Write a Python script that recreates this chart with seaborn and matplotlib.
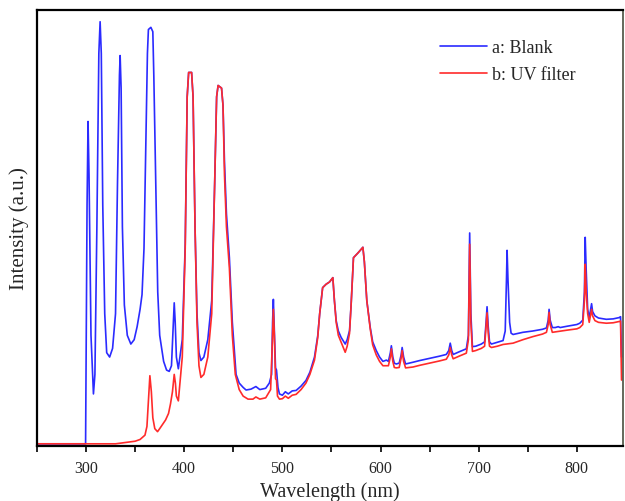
import numpy as np
import pandas as pd
import seaborn as sns
import matplotlib
matplotlib.use("Agg")
import matplotlib.pyplot as plt
from matplotlib.ticker import MultipleLocator

# Emission spectrum without filter (wavelength in nm, intensity in a.u.)
blank_wl = [250, 299.5, 300.3, 301, 302, 303, 305, 307.5, 309, 311, 313, 314.3, 315.5, 317, 319,
            321, 324, 327, 330, 332, 334, 334.7, 335.7, 337, 339, 342, 345.6, 349, 352, 355,
            357, 359, 361, 362.5, 363.5, 366, 368, 369, 371, 373, 375, 377, 379, 382, 384.7,
            387, 389, 389.8, 390.8, 392, 394, 398, 401, 403, 404.5, 407.5, 409, 411, 413, 415,
            417, 420, 424, 428, 431, 433, 434.5, 438, 439.5, 441, 443, 446, 449, 452.8, 456,
            460, 463, 468, 473, 477, 483, 486.7, 489, 490, 490.8, 491.8, 493, 494, 495.5, 497,
            500, 503, 506, 510, 514, 519, 524, 528, 532.7, 536, 538, 541, 544.6, 548, 551.4,
            553, 554.8, 557, 559.9, 564, 566, 568.4, 570, 572.4, 577, 582, 583.5, 586, 589.5,
            592, 595.6, 599, 602.4, 606, 608, 610, 611, 612.5, 614, 616, 619, 621, 622, 623.5,
            625.5, 633, 640, 650, 660, 667, 669.5, 671, 672.5, 674, 680, 687.4, 689.5, 690.8,
            692, 693.6, 697, 702.7, 706, 707.5, 708.5, 709.7, 711, 713, 719, 724.8, 727, 728.3,
            728.9, 729.8, 731.5, 733, 735, 745, 755, 765, 769, 770.8, 771.7, 772.8, 775, 778,
            781, 783, 790, 800, 803, 806, 807.7, 808.5, 809.5, 811, 812.6, 814, 815, 816, 818.4,
            822, 830, 837, 843.2, 844.5, 845.5]
blank_int = [0, 0, 30, 55, 74.3, 62, 25, 11.5, 16, 50, 90, 97.3, 90, 55, 30,
             21, 20, 22, 30, 60, 85, 89.5, 82, 50, 32, 25, 23, 24, 27, 31,
             34.4, 45, 70, 90, 95.5, 96, 95, 85, 60, 35, 25, 22, 19, 17, 16.7,
             18, 28, 32.5, 28, 20, 17.3, 24, 46, 80, 85.6, 85.6, 80, 50, 30, 21,
             19.2, 20, 24, 33, 60, 80, 82.6, 82, 78, 65, 53, 42.9, 28, 16, 14,
             13, 12.4, 12.6, 13.2, 12.5, 12.8, 14, 16, 28, 33.3, 26, 17.5, 17, 13, 11.5,
             11.2, 12, 11.5, 12.2, 12.3, 13.3, 14.6, 16.5, 20, 24.9, 30, 36, 36.8, 37.3, 38.3,
             33, 28.4, 26, 24.5, 23, 24, 26.1, 32, 42.9, 44, 45.3, 42, 33, 26.8,
             23.5, 21.5, 20, 19, 19.3, 19, 21, 22.6, 20, 18.6, 18.4, 18.6, 20.5, 22.2, 20,
             18.4, 18.8, 19.2, 19.7, 20.2, 20.6, 21.5, 23.2, 21.5, 20.6, 21.2, 21.9, 25, 48.6,
             30, 22.4, 22.5, 23, 23.5, 28, 31.6, 27, 23.5, 23, 23.4, 23.8, 26, 38,
             44.6, 38, 28, 25.5, 25.2, 25.7, 26, 26.4, 26.7, 28.5, 31, 28.5, 26.8, 26.8,
             27, 26.8, 27.1, 27.5, 27.8, 28.5, 35, 47.6, 40, 31, 29.1, 31, 32.3, 30.5, 29.5,
             29, 28.7, 28.8, 29.1, 29.3, 20]

# Emission spectrum through the UV filter
uv_wl = [250, 330, 340, 350, 355, 360, 362, 363.5, 365, 366.5, 368, 370, 372.8, 375, 378.6,
         381, 384, 386, 388, 389.8, 391, 392, 394, 398, 401, 403, 404.5, 407.5, 409, 411,
         413, 415, 417, 420, 424, 428, 431, 433, 434.5, 438, 439.5, 441, 443, 446, 449,
         452, 456, 460, 465, 470, 473, 477, 483, 488, 490, 490.8, 491.8, 493, 494, 495,
         497, 500, 503, 506, 510, 514, 519, 524, 528, 532.7, 536, 538, 541, 544.6, 548,
         551.4, 553, 554.8, 557, 559.9, 564, 566, 568.4, 570, 572.4, 577, 582, 583.5, 586,
         589.5, 592, 595.6, 599, 602.4, 606, 608, 610, 611, 612.5, 614, 616, 619, 621, 622,
         623.5, 625.5, 633, 640, 650, 660, 667, 669.5, 671, 672.5, 674, 680, 687.4, 689.5,
         690.8, 692, 693.6, 697, 702.7, 706, 707.5, 708.5, 709.7, 711, 713, 719, 724.8, 735,
         745, 755, 765, 769, 770.8, 771.7, 772.8, 775, 781, 790, 800, 803, 806, 807.7, 808.5,
         809.5, 811, 812.6, 814, 815, 816, 818.4, 822, 830, 837, 843.2, 844.5, 845.5]
uv_int = [0, 0, 0.3, 0.6, 1, 2, 4, 10, 15.7, 12, 6, 3.5, 2.8, 3.5, 4.7,
          5.5, 7, 9.2, 12, 16, 14, 11, 9.9, 20, 45, 80, 85.6, 85.6, 80, 50,
          28, 18, 15.3, 16, 20, 30, 60, 80, 82.6, 82, 78, 62, 50, 40.5, 25,
          16, 12.5, 11, 10.3, 10.3, 10.8, 10.3, 10.6, 12.5, 25, 31, 25, 15, 14.7, 11,
          10.3, 10.4, 11, 10.5, 11.2, 11.4, 12.5, 14, 16, 19.3, 24.5, 30, 36, 36.8, 37.3,
          38.3, 33, 28, 25, 23.4, 21.1, 22.5, 25.5, 32, 42.9, 44, 45.3, 42, 33,
          26.5, 22.8, 20.5, 19, 18, 18, 18, 20, 21.9, 19, 17.6, 17.5, 17.6, 19.8, 21.5,
          19, 17.5, 17.7, 18.1, 18.6, 19.1, 19.5, 20.5, 22.2, 20.5, 19.6, 20.2, 20.9, 24,
          46, 28, 21.3, 21.5, 22, 22.5, 27, 30.2, 25.5, 22.5, 22.2, 22.5, 22.9, 23.2,
          24, 24.7, 25.3, 25.7, 27.5, 30.3, 27.5, 25.7, 25.9, 26.2, 26.5, 26.8, 27.5, 33, 41.4,
          35, 30, 28, 29.8, 31, 29.5, 28.4, 28, 27.8, 27.9, 28.2, 28.3, 14.7]

series_labels = ["a: Blank", "b: UV filter"]
series_colors = ["#2b2bff", "#ff2b2b"]
x_ticks = [300, 400, 500, 600, 700, 800]

df = pd.concat([
    pd.DataFrame({"Wavelength": blank_wl, "Intensity": blank_int, "Sample": series_labels[0]}),
    pd.DataFrame({"Wavelength": uv_wl, "Intensity": uv_int, "Sample": series_labels[1]}),
], ignore_index=True)

sns.set_style("white")
plt.rcParams["font.family"] = ["Liberation Serif", "DejaVu Serif"]

fig = plt.figure(figsize=(6.25, 5.02), dpi=100)
ax = fig.add_axes([0.0592, 0.1096, 0.9376, 0.8685])

sns.lineplot(data=df, x="Wavelength", y="Intensity", hue="Sample",
             palette=dict(zip(series_labels, series_colors)),
             estimator=None, sort=False, linewidth=1.2, ax=ax)

ax.set_xlim(250, 847)
ax.set_ylim(-0.5, 100)
ax.set_xticks(x_ticks)
ax.xaxis.set_minor_locator(MultipleLocator(50))
ax.set_yticks([])
ax.tick_params(axis="x", which="both", direction="out", length=4, width=1.2,
               color="black", bottom=True, labelsize=11.5, pad=6)
ax.set_xlabel("Wavelength (nm)", fontsize=14.5, labelpad=4)
ax.set_ylabel("Intensity (a.u.)", fontsize=15, labelpad=6)

for side in ["left", "bottom", "top"]:
    ax.spines[side].set_color("black")
    ax.spines[side].set_linewidth(1.6)
ax.spines["right"].set_color("#4a5040")
ax.spines["right"].set_linewidth(1.2)

ax.legend(title=None, frameon=False, loc="upper left",
          bbox_to_anchor=(0.675, 0.95), fontsize=13, handlelength=2.6,
          handletextpad=0.3, labelspacing=0.55, borderaxespad=0)

fig.savefig("out.png", dpi=100)
